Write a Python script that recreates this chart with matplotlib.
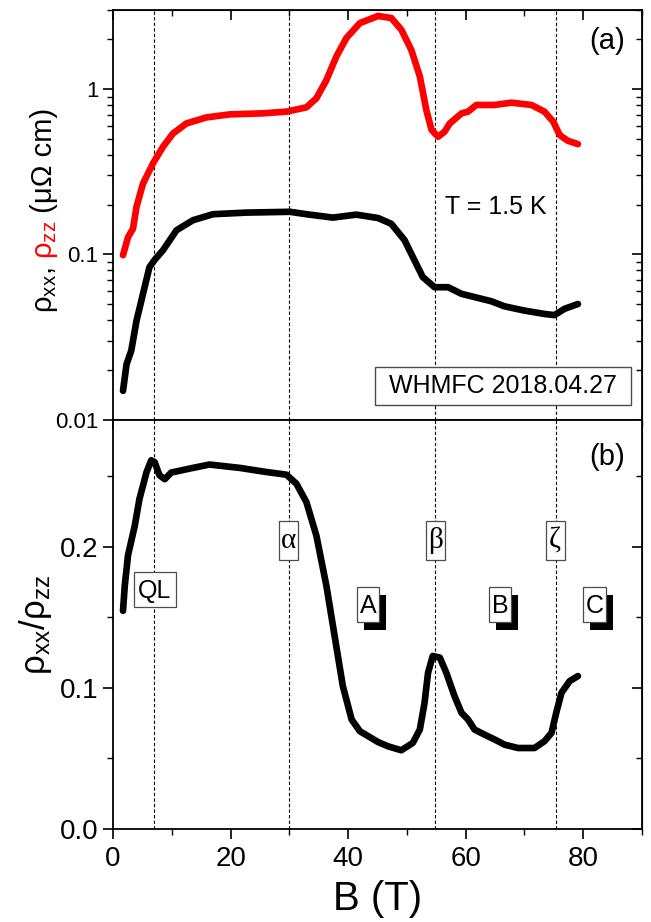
import numpy as np
import matplotlib
matplotlib.use("Agg")
import matplotlib.pyplot as plt
from matplotlib.ticker import FixedLocator, MultipleLocator, NullFormatter, LogLocator
from matplotlib.patches import Rectangle
from matplotlib.transforms import ScaledTranslation

plt.rcParams['font.family'] = ['Liberation Sans', 'DejaVu Sans']
plt.rcParams['mathtext.default'] = 'regular'

# rho_zz (crvena), uOhm cm
b_zz = [1.7, 2.55, 3.4, 4.0, 5.1, 6.8, 8.5, 10.2, 12.5, 15.9, 19.9, 25.5, 29.5, 32.9, 34.6,
        36.3, 38.0, 39.7, 42.0, 45.1, 47.35, 49.05, 50.75, 52.2, 53.3, 54.2, 55.3, 56.4, 57.3,
        59.3, 60.4, 61.8, 64.9, 67.8, 71.2, 73.4, 74.9, 76.0, 77.4, 79.1]
rho_zz = [0.099, 0.127, 0.143, 0.194, 0.268, 0.355, 0.447, 0.538, 0.619, 0.673, 0.702, 0.712,
          0.729, 0.774, 0.878, 1.13, 1.57, 2.03, 2.50, 2.76, 2.68, 2.28, 1.72, 1.19, 0.746,
          0.565, 0.514, 0.551, 0.619, 0.712, 0.729, 0.80, 0.80, 0.826, 0.80, 0.729, 0.634,
          0.526, 0.486, 0.464]

# rho_xx (crna), uOhm cm
b_xx = [1.7, 2.3, 3.1, 4.0, 5.1, 6.2, 7.1, 8.5, 10.8, 13.6, 17.0, 22.7, 30.1, 32.9, 37.4,
        41.4, 45.1, 47.35, 49.6, 51.3, 52.7, 54.7, 57.0, 59.3, 62.1, 64.4, 66.6, 70.0, 73.4,
        75.1, 76.8, 79.1]
rho_xx = [0.015, 0.0217, 0.0262, 0.0398, 0.0578, 0.0838, 0.0929, 0.106, 0.140, 0.161, 0.175,
          0.179, 0.181, 0.175, 0.167, 0.174, 0.166, 0.153, 0.122, 0.092, 0.073, 0.0634,
          0.0634, 0.0578, 0.0546, 0.0521, 0.0486, 0.0458, 0.0437, 0.043, 0.0469, 0.0502]

# odnos rho_xx/rho_zz
b_r = [1.7, 2.0, 2.55, 3.7, 4.5, 5.7, 6.5, 7.1, 7.9, 8.8, 9.9, 13.0, 16.4, 21.6, 26.1, 29.5,
       31.2, 32.9, 34.6, 36.3, 37.7, 39.1, 40.6, 42.0, 45.1, 46.8, 49.05, 51.0, 52.2, 53.0,
       53.6, 54.4, 55.6, 56.7, 58.1, 59.3, 60.4, 61.5, 63.2, 65.0, 66.6, 68.9, 71.7, 73.4,
       74.6, 75.4, 76.3, 77.7, 79.1]
ratio = [0.1547, 0.1725, 0.194, 0.215, 0.234, 0.253, 0.2614, 0.260, 0.2508, 0.248, 0.2527,
         0.2555, 0.2584, 0.256, 0.2531, 0.2512, 0.2448, 0.2318, 0.208, 0.1725, 0.1369, 0.1013,
         0.0776, 0.0693, 0.0616, 0.0586, 0.0558, 0.061, 0.0705, 0.0894, 0.1108, 0.1227, 0.1215,
         0.1108, 0.0942, 0.0823, 0.0776, 0.0705, 0.0669, 0.0633, 0.0598, 0.0574, 0.0574,
         0.0622, 0.0681, 0.0823, 0.0966, 0.1049, 0.1084]

prelazi = [6.9, 29.9, 54.8, 75.4]
oznake_grcke = [("α", 29.9), ("β", 54.9), ("ζ", 75.2)]
oznake_faze = [("A", 43.4, 22), ("B", 65.9, 22), ("C", 82.0, 23)]

fig = plt.figure(figsize=(6.51, 9.22), dpi=100)
ax1 = fig.add_axes([0.1736, 0.5445, 0.8126, 0.4447])
ax2 = fig.add_axes([0.1736, 0.1009, 0.8126, 0.4436], sharex=ax1)

stil = dict(lw=4.8, solid_capstyle='round', solid_joinstyle='round')
ax1.plot(b_zz, rho_zz, color='#ff0000', **stil)
ax1.plot(b_xx, rho_xx, color='k', **stil)
ax2.plot(b_r, ratio, color='k', **stil)

for ax in (ax1, ax2):
    for x in prelazi:
        ax.axvline(x, color='k', lw=0.8, ls=(0, (3, 2)), zorder=1)
    for s in ax.spines.values():
        s.set_linewidth(1.3)

ax1.set_yscale('log')
ax1.set_ylim(0.01, 3.0)
ax1.set_xlim(0, 90)
ax1.yaxis.set_major_locator(FixedLocator([0.01, 0.1, 1]))
ax1.yaxis.set_minor_locator(LogLocator(base=10, subs=np.arange(2, 10)))
ax1.yaxis.set_minor_formatter(NullFormatter())
ax1.set_yticklabels(['0.01', '0.1', '1'])
ax1.tick_params(axis='y', which='major', direction='out', length=7, width=1.2, labelsize=16)
ax1.tick_params(axis='y', which='minor', direction='out', length=4, width=1.0)
ax1.tick_params(axis='x', which='both', direction='out', bottom=True, top=False, labelbottom=False)
ax1.tick_params(axis='x', which='major', length=7, width=1.2)
ax1.tick_params(axis='x', which='minor', length=4, width=1.0)

ax2.set_ylim(0, 0.29)
ax2.xaxis.set_major_locator(MultipleLocator(20))
ax2.xaxis.set_minor_locator(MultipleLocator(10))
ax2.yaxis.set_major_locator(MultipleLocator(0.1))
ax2.yaxis.set_minor_locator(MultipleLocator(0.05))
ax2.tick_params(axis='both', which='major', direction='out', length=7, width=1.2, labelsize=20)
ax2.tick_params(axis='both', which='minor', direction='out', length=4, width=1.0)
ax2.tick_params(axis='x', top=False, pad=5)

# gornja i desna osa - crtice ka unutra
sx = ax1.secondary_xaxis('top')
sx.xaxis.set_major_locator(MultipleLocator(20))
sx.xaxis.set_minor_locator(MultipleLocator(10))
sx.tick_params(which='both', direction='in', labeltop=False)
sx.tick_params(which='major', length=7, width=1.2)
sx.tick_params(which='minor', length=4, width=1.0)
for ax in (ax1, ax2):
    sy = ax.secondary_yaxis('right')
    if ax is ax1:
        sy.yaxis.set_major_locator(FixedLocator([0.01, 0.1, 1]))
        sy.yaxis.set_minor_locator(LogLocator(base=10, subs=np.arange(2, 10)))
    else:
        sy.yaxis.set_major_locator(MultipleLocator(0.1))
        sy.yaxis.set_minor_locator(MultipleLocator(0.05))
    sy.tick_params(which='both', direction='in', labelright=False)
    sy.tick_params(which='major', length=7, width=1.2)
    sy.tick_params(which='minor', length=4, width=1.0)

ax2.set_xlabel('B (T)', fontsize=29, labelpad=6)
ax2.set_ylabel('ρ$_{xx}$/ρ$_{zz}$', fontsize=25, labelpad=4)

# oznaka ose (a) u dve boje, deo po deo
renderer = fig.canvas.get_renderer()
delovi = [('ρ$_{xx}$,', 'k', 8), ('ρ$_{zz}$', '#ff0000', 0), (' (μΩ cm)', 'k', 0)]
x0, y0 = 52, 922 - 313
for tekst, boja, razmak in delovi:
    t = fig.text(x0 / 651, y0 / 922, tekst, color=boja, fontsize=21, rotation=90,
                 rotation_mode='anchor', ha='left', va='baseline')
    bb = t.get_window_extent(renderer)
    y0 += bb.height + razmak

ax1.text(84.0, 1.94, '(a)', fontsize=21, ha='center', va='center')
ax1.text(65.2, 0.194, 'T = 1.5 K', fontsize=18, ha='center', va='center')
ax1.text(0.738, 0.082, 'WHMFC 2018.04.27', transform=ax1.transAxes, fontsize=18,
         ha='center', va='center')
ax1.add_patch(Rectangle((0.738 - 0.242, 0.082 - 0.046), 0.484, 0.092, transform=ax1.transAxes,
                        fc='white', ec='0.3', lw=1.0, zorder=1.5))


def kutija(ax, x, y, w, h, senka=False):
    # pravougaonik fiksne velicine (u pikselima) oko tacke (x, y)
    tr = fig.dpi_scale_trans + ScaledTranslation(x, y, ax.transData)
    if senka:
        ax.add_patch(Rectangle(((-w / 2 + 7) / 100, (-h / 2 - 8) / 100), w / 100, h / 100,
                               transform=tr, fc='k', ec='k', lw=0, zorder=2.4, clip_on=False))
    ax.add_patch(Rectangle((-w / 2 / 100, -h / 2 / 100), w / 100, h / 100, transform=tr,
                           fc='white', ec='0.3', lw=0.9, zorder=2.5, clip_on=False))


def tekst_u_kutiji(ax, x, y, s, **kw):
    tr = ax.transData + ScaledTranslation(0, -6.4 / 72, fig.dpi_scale_trans)
    ax.text(x, y, s, transform=tr, ha='center', va='baseline', zorder=3, **kw)


ax2.text(84.0, 0.2637, '(b)', fontsize=21, ha='center', va='center')
kutija(ax2, 7.09, 0.170, 42, 35)
tekst_u_kutiji(ax2, 7.09, 0.170, 'QL', fontsize=18)
for g, x in oznake_grcke:
    kutija(ax2, x, 0.2043, 19, 39)
    ax2.text(x, 0.2043, g, fontsize=21, ha='center', va='center', family='Liberation Serif',
             zorder=3)
for s, x, w in oznake_faze:
    kutija(ax2, x, 0.1593, w, 35, senka=True)
    tekst_u_kutiji(ax2, x, 0.1593, s, fontsize=18)

fig.savefig('out.png', dpi=100)
